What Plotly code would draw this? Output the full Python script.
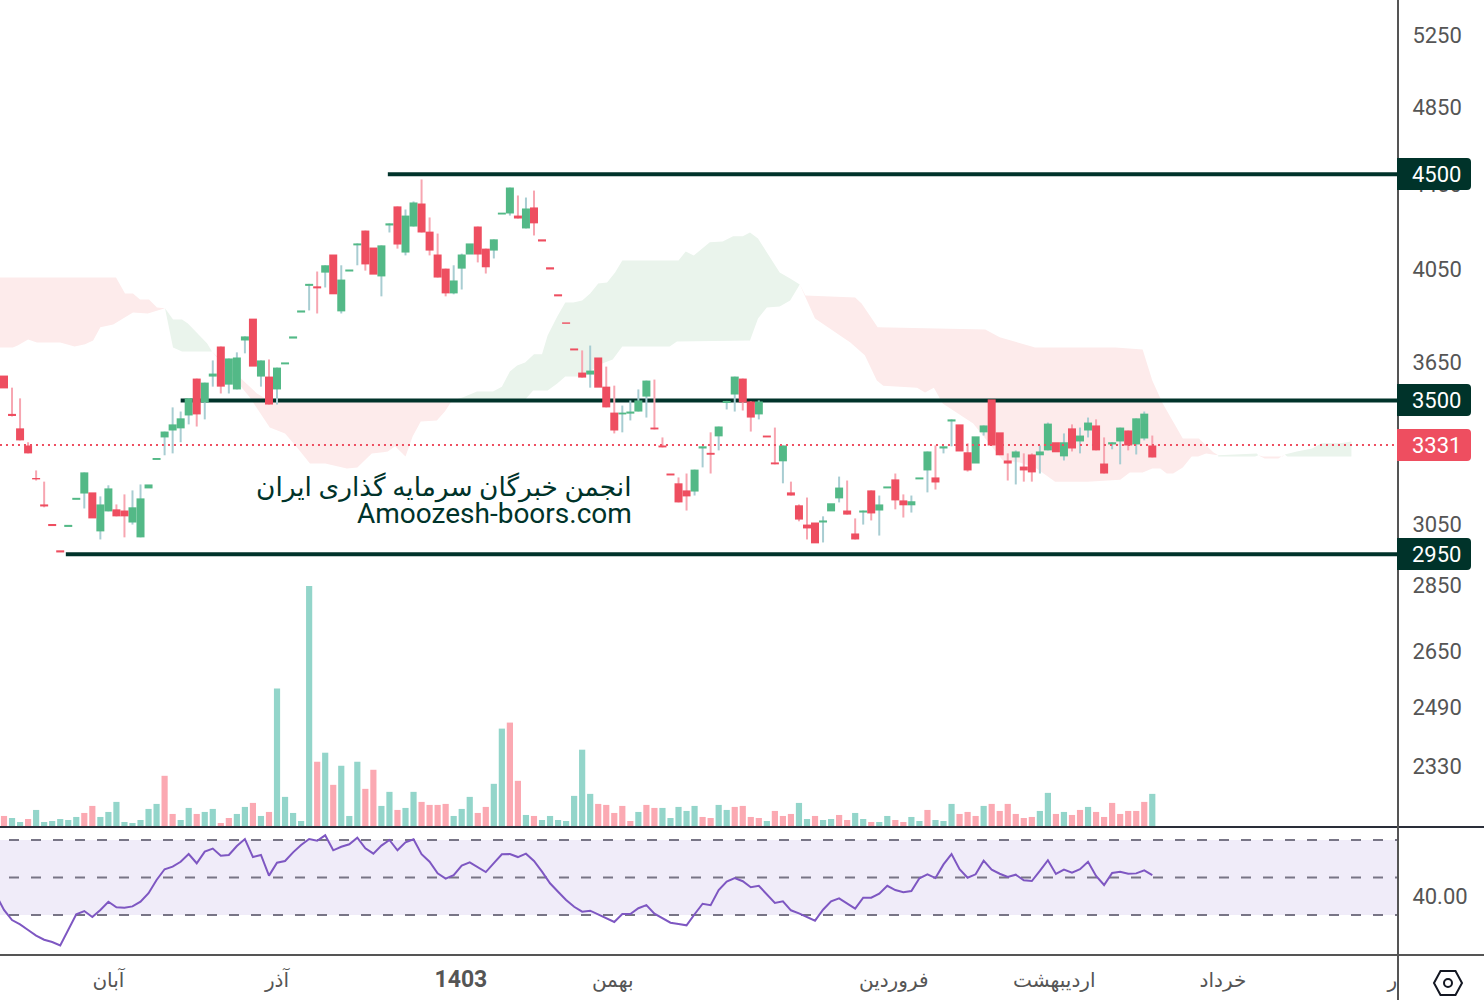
import math
import plotly.graph_objects as go

# ---------- candles (log price) ----------
opens = [3598,3448,3393,3329,3211,3118,3051,2963,3041,3134,
3156,3160,3026,3094,3101,3097,3056,3006,3174,3276,
3359,3385,3393,3442,3586,3492,3594,3716,3562,3543,
3741,3833,3594,3594,3543,3643,3749,3859,3975,3973,
4034,4116,3864,4039,4158,4227,4148,4017,4251,4342,
4125,4246,4356,4222,4116,4052,3942,4052,4116,4246,
4143,4134,4303,4308,4298,4237,4337,4186,4058,3938,
3817,3708,3610,3602,3671,3554,3453,3446,3449,3457,
3515,3396,3329,3227,3192,3167,3163,3318,3302,3363,
3490,3523,3586,3496,3446,3366,3267,3271,3160,3115,
3049,3056,3056,3094,3139,3097,3019,3090,3167,3097,
3174,3206,3132,3115,3206,3238,3213,3318,3419,3408,
3304,3263,3378,3504,3378,3274,3285,3252,3296,3293,
3311,3341,3289,3393,3344,3385,3404,3263,3333,3344,
3385,3333,3355,3329]
closes = [3547,3440,3348,3300,3206,3111,3044,2956,3048,3141,
3231,3070,3118,3174,3077,3077,3108,3139,3188,3283,
3381,3408,3431,3508,3446,3570,3606,3554,3667,3671,
3758,3634,3659,3484,3630,3651,3758,3868,3984,3964,
4067,3938,4003,4048,4167,4071,4025,4158,4261,4162,
4298,4361,4218,4134,4012,3942,3999,4116,4167,4116,
4058,4186,4312,4434,4284,4332,4261,4176,4048,3929,
3811,3700,3590,3618,3550,3473,3385,3453,3457,3500,
3578,3389,3322,3220,3125,3146,3241,3326,3295,3400,
3498,3594,3492,3434,3496,3359,3260,3329,3149,3066,
3036,2986,3063,3122,3177,3083,2999,3097,3087,3118,
3181,3132,3115,3129,3213,3307,3195,3326,3427,3307,
3238,3363,3404,3329,3293,3263,3307,3238,3231,3307,
3411,3304,3341,3318,3366,3415,3311,3227,3341,3396,
3329,3431,3449,3285]
highs = [3598,3550,3508,3341,3238,3198,3051,2963,3048,3141,
3231,3160,3146,3185,3118,3153,3167,3188,3188,3283,
3381,3473,3457,3508,3586,3570,3659,3716,3667,3692,
3758,3833,3659,3663,3630,3651,3758,3868,3984,4039,
4067,4116,4067,4048,4167,4227,4148,4158,4261,4342,
4327,4366,4474,4289,4213,4052,4067,4120,4167,4246,
4143,4186,4312,4434,4395,4385,4419,4186,4058,3938,
3817,3708,3700,3720,3671,3634,3558,3480,3500,3543,
3578,3582,3359,3227,3213,3227,3241,3326,3378,3400,
3498,3594,3586,3496,3500,3366,3396,3329,3198,3118,
3142,3056,3077,3122,3216,3202,3070,3097,3167,3149,
3181,3227,3153,3149,3213,3307,3329,3326,3427,3408,
3337,3363,3404,3504,3378,3300,3311,3300,3300,3329,
3415,3341,3374,3408,3396,3434,3427,3359,3341,3396,
3385,3431,3457,3366]
lows = [3547,3438,3348,3300,3202,3108,3044,2956,3041,3134,
3104,3070,2999,3094,3077,3006,3049,3006,3174,3276,
3293,3300,3341,3408,3400,3427,3554,3527,3527,3543,
3688,3634,3554,3484,3484,3643,3749,3859,3868,3855,
3968,3938,3855,4039,4067,4043,4025,3929,4218,4143,
4112,4246,4218,4112,4012,3929,3938,3959,4116,4080,
4030,4098,4303,4298,4284,4237,4204,4176,4048,3929,
3811,3700,3590,3550,3550,3473,3374,3378,3423,3457,
3434,3389,3322,3220,3125,3097,3149,3249,3227,3311,
3465,3457,3461,3381,3427,3359,3260,3192,3149,3060,
2999,2986,2989,3094,3125,3083,2999,3049,3063,3012,
3174,3101,3073,3090,3206,3160,3170,3300,3326,3307,
3234,3263,3366,3329,3293,3202,3188,3198,3198,3227,
3311,3304,3274,3307,3300,3359,3311,3227,3315,3260,
3311,3296,3348,3285]

# ---------- volume ----------
volumes = [30,24,12,21,48,12,15,21,18,27,39,60,27,42,72,12,9,18,51,66,
150,36,18,54,36,42,51,9,24,36,57,69,30,42,411,87,39,15,717,192,
219,123,180,30,192,111,168,60,102,48,54,102,72,63,63,66,30,51,87,39,
57,126,291,309,135,33,30,18,30,18,15,90,228,96,66,63,39,60,15,42,
63,54,54,24,57,45,60,27,24,63,48,57,60,27,24,15,45,30,36,69,
21,30,18,21,33,18,39,21,12,12,30,18,12,27,15,48,18,15,66,36,
42,30,60,66,45,66,36,24,27,45,99,36,42,33,48,57,42,27,69,36,
45,45,72,96]
volume_up = [0,1,1,0,1,1,1,1,1,1,0,0,1,1,1,1,1,1,1,1,
0,0,1,1,0,1,1,0,0,1,1,0,1,0,1,1,1,1,1,0,
1,0,1,1,1,0,0,1,1,0,1,1,0,0,0,0,1,1,1,0,
0,1,1,0,0,1,0,1,1,1,1,1,1,1,0,0,0,0,0,1,
0,0,1,1,1,1,1,0,0,1,1,0,0,0,0,1,0,0,0,1,
1,0,1,1,0,0,1,1,0,1,1,0,0,1,1,0,1,1,1,0,
0,0,1,0,0,0,0,0,0,1,1,0,1,0,0,1,0,0,0,0,
0,0,0,1]

# ---------- RSI (first value lies one bar before the first candle) ----------
rsi = [40.8,32.7,27.3,25.0,22.0,19.0,16.8,15.6,13.8,22.0,30.4,32.1,28.9,32.7,37.1,34.1,33.9,34.6,37.1,41.6,
48.7,54.4,55.8,58.4,62.5,57.6,63.8,65.4,61.6,62.0,66.8,70.5,60.9,62.0,51.0,57.9,58.8,63.4,67.3,70.5,
69.6,72.5,64.5,66.4,67.7,71.2,65.6,62.7,67.0,70.0,64.5,68.8,70.4,62.4,58.4,52.2,49.4,51.3,56.3,58.1,
55.4,52.9,57.7,62.4,62.5,60.9,62.7,58.8,53.1,46.9,42.4,38.0,34.4,31.8,32.3,30.4,28.4,26.3,30.5,30.5,
33.6,35.3,30.7,28.4,25.9,25.2,24.5,30.4,36.0,35.2,43.3,47.8,49.7,48.0,44.8,45.6,41.2,36.4,37.3,32.5,
30.9,28.9,27.0,32.8,37.3,38.9,36.2,33.4,39.2,39.2,41.4,45.6,43.3,42.1,42.8,49.6,51.7,49.7,57.0,62.5,
54.4,49.9,51.7,59.0,54.2,52.0,50.3,51.5,48.5,48.1,53.5,59.2,51.9,54.2,52.6,54.4,58.4,50.8,46.0,52.4,
53.1,52.0,52.2,53.8,51.3]

# ---------- Ichimoku cloud: (bar position, price) along each span ----------
red_a_top_x = [-0.5,13.95,15.07,16.06,16.94,18.06,19.05,20.05]
red_a_top_y = [4012,4012,3942,3942,3915,3915,3881,3877]
red_a_bot_x = [-0.5,1.1,1.7,3,4.1,7,8.8,10.1,11.1,12,13.6,16.06,17.9,20.05]
red_a_bot_y = [3712,3712,3720,3745,3733,3733,3716,3725,3741,3796,3808,3859,3855,3877]

green_a_top_x = [20.05,21.05,22.17,22.9,25.3,25.9]
green_a_top_y = [3877,3829,3829,3812,3729,3696]
green_a_bot_x = [20.05,21.05,22.17,25.9]
green_a_bot_y = [3877,3712,3696,3696]

red_b_top_x = [25.9,28.5,29.8,31.5,32.5,36.9,55.8]
red_b_top_y = [3696,3618,3578,3527,3508,3504,3500]
red_b_bot_x = [25.9,30.6,33.1,35,36.5,38.1,40,42.7,44,45.8,47.2,47.8,48.7,50,50.9,51.9,53.9,54.9,55.8]
red_b_bot_y = [3696,3512,3396,3374,3322,3263,3263,3245,3249,3300,3304,3307,3326,3289,3363,3419,3423,3457,3500]

green_b_top_x = [55.8,57.2,58.9,60.9,62,63,63.9,64.9,66,67,67.7,68.9,69.9,70.9,72,73,74,75.1,76.1,77,84,84.9,85.9,87.9,89.5,90.8,92,92.9,93.9,96.6,97.9,99.1]
green_b_top_y = [3500,3512,3535,3535,3554,3614,3638,3651,3684,3684,3762,3842,3902,3902,3911,3942,3986,3990,4034,4089,4089,4130,4112,4172,4176,4200,4200,4218,4190,4034,4008,3981]
green_b_bot_x = [55.8,64.8,65.9,67.7,68.9,69.9,71.7,72.7,74.5,75.8,77,82.9,83.8,92.9,93.9,95,96.6,97.9,99.1]
green_b_bot_y = [3496,3500,3539,3539,3566,3594,3594,3610,3647,3663,3716,3716,3737,3741,3833,3881,3885,3911,3981]

red_c_top_x = [99.1,99.8,106,106.8,108.8,122.2,124,128.4,138.4,141.8,143,144.3,146.8,148.8,150.6,151.2]
red_c_top_y = [3981,3933,3924,3898,3796,3787,3754,3712,3712,3704,3578,3488,3355,3355,3304,3293]
red_c_bot_x = [99.1,101,105.4,107.2,108.7,109.5,113.7,114.7,115.8,116.9,118.7,120.7,124.4,126.5,128.6,130.9,134.9,139,140.2,141.8,143,144,144.8,145.6,146.8,147.9,148.7,149.7,151.2]
red_c_bot_y = [3981,3833,3733,3680,3578,3558,3550,3531,3550,3488,3450,3411,3274,3267,3245,3198,3198,3205,3231,3231,3245,3245,3227,3227,3249,3289,3289,3300,3293]

green_c_top_x = [151.2,156,156.2]
green_c_top_y = [3293,3300,3293]
green_c_bot_x = [151.2,155.8,156.2]
green_c_bot_y = [3289,3289,3293]

red_d_top_x = [156.2,156.8,159.2,159.5]
red_d_top_y = [3293,3289,3289,3296]
red_d_bot_x = [156.2,157,158.7,159.5]
red_d_bot_y = [3293,3281,3281,3296]

green_d_top_x = [159.5,161,162.9,164.1,166.4,167.8]
green_d_top_y = [3296,3307,3318,3337,3337,3344]
green_d_bot_x = [159.5,159.8,167.8]
green_d_bot_y = [3296,3289,3289]

# ---------- levels and labels ----------
level_prices = [4500, 3500, 2950]
level_starts = [47.8, 22.0, 7.7]
last_price = 3331
price_ticks = [5250, 4850, 4450, 4050, 3650, 3050, 2850, 2650, 2490, 2330]
month_ticks = [13, 34, 56.9, 75.8, 110.8, 130.8, 151.8, 172.9]
month_labels = ["آبان", "آذر", "<b><span style='font-size:23px'>1403</span></b>", "بهمن", "فروردین", "اردیبهشت", "خرداد", "ر"]
watermark_1 = "انجمن خبرگان سرمایه گذاری ایران"
watermark_2 = "Amoozesh-boors.com"

# ---------- styles ----------
W, H = 1484, 1000
AXIS_X = 1398
X_MAX = 173.6
GREEN, RED = "#53B987", "#EE4E60"
GREEN_WICK, RED_WICK = "#A8CDD2", "#F7A6B1"
VOL_GREEN, VOL_RED = "#93D5CA", "#FBA9B2"
CLOUD_RED, CLOUD_GREEN = "#FDEBEB", "#EAF4EC"
DARK = "#00332A"
TEXT = "#555555"
FONT = "Roboto, 'DejaVu Sans', sans-serif"

fx = lambda px: px / W
fy = lambda py: 1 - py / H
bars = list(range(len(opens)))

fig = go.Figure()

def add_cloud(tx, ty, bx, by, color):
    fig.add_trace(go.Scatter(x=tx + bx[::-1], y=ty + by[::-1], mode="lines", fill="toself",
                             fillcolor=color, line=dict(width=0, color=color),
                             hoverinfo="skip", yaxis="y", showlegend=False))

add_cloud(red_a_top_x, red_a_top_y, red_a_bot_x, red_a_bot_y, CLOUD_RED)
add_cloud(green_a_top_x, green_a_top_y, green_a_bot_x, green_a_bot_y, CLOUD_GREEN)
add_cloud(red_b_top_x, red_b_top_y, red_b_bot_x, red_b_bot_y, CLOUD_RED)
add_cloud(green_b_top_x, green_b_top_y, green_b_bot_x, green_b_bot_y, CLOUD_GREEN)
add_cloud(red_c_top_x, red_c_top_y, red_c_bot_x, red_c_bot_y, CLOUD_RED)
add_cloud(green_c_top_x, green_c_top_y, green_c_bot_x, green_c_bot_y, CLOUD_GREEN)
add_cloud(red_d_top_x, red_d_top_y, red_d_bot_x, red_d_bot_y, CLOUD_RED)
add_cloud(green_d_top_x, green_d_top_y, green_d_bot_x, green_d_bot_y, CLOUD_GREEN)

# volume
fig.add_trace(go.Bar(x=bars, y=volumes, yaxis="y2",
                     marker=dict(color=[VOL_GREEN if u else VOL_RED for u in volume_up], line=dict(width=0)),
                     hoverinfo="skip", showlegend=False))

# horizontal levels
for price, start in zip(level_prices, level_starts):
    fig.add_trace(go.Scatter(x=[start, X_MAX], y=[price, price], mode="lines",
                             line=dict(color=DARK, width=4), hoverinfo="skip", showlegend=False))

# wicks, then bodies (drawn as scatter so they stack above the cloud and the levels)
for up, color in ((True, GREEN_WICK), (False, RED_WICK)):
    wx, wy = [], []
    for i in bars:
        if (closes[i] >= opens[i]) == up and (highs[i] > max(opens[i], closes[i]) or lows[i] < min(opens[i], closes[i])):
            wx += [i, i, None]
            wy += [lows[i], highs[i], None]
    fig.add_trace(go.Scatter(x=wx, y=wy, mode="lines", line=dict(color=color, width=2),
                             hoverinfo="skip", showlegend=False))

for up, color in ((True, GREEN), (False, RED)):
    bx, by = [], []
    for i in bars:
        if (closes[i] >= opens[i]) == up:
            bx += [i, i, None]
            by += [opens[i], closes[i], None]
    fig.add_trace(go.Scatter(x=bx, y=by, mode="lines", line=dict(color=color, width=8),
                             hoverinfo="skip", showlegend=False))

# last price dotted line
fig.add_trace(go.Scatter(x=[-0.5, X_MAX], y=[last_price, last_price], mode="lines",
                         line=dict(color=RED, width=2, dash="2px,4px"), hoverinfo="skip", showlegend=False))

# RSI
fig.add_trace(go.Scatter(x=list(range(-1, len(opens))), y=rsi, yaxis="y3", mode="lines",
                         line=dict(color="#7E57C2", width=2), hoverinfo="skip", showlegend=False))

shapes = []
# RSI band and dashed levels
shapes.append(dict(type="rect", xref="paper", yref="y3", x0=0, x1=fx(AXIS_X), y0=30, y1=70,
                   fillcolor="#F0ECF9", line=dict(width=0), layer="below"))
for lvl in (70, 50, 30):
    shapes.append(dict(type="line", xref="paper", yref="y3", x0=fx(9), x1=fx(AXIS_X), y0=lvl, y1=lvl,
                       line=dict(color="#787586", width=2, dash="10px,12px"), layer="below"))
# frame lines
shapes.append(dict(type="line", xref="paper", yref="paper", x0=0, x1=1, y0=fy(827), y1=fy(827),
                   line=dict(color="#2A2E39", width=2)))
shapes.append(dict(type="line", xref="paper", yref="paper", x0=0, x1=1, y0=fy(955), y1=fy(955),
                   line=dict(color="#555555", width=2)))
shapes.append(dict(type="line", xref="paper", yref="paper", x0=fx(AXIS_X), x1=fx(AXIS_X), y0=0, y1=1,
                   line=dict(color="#555555", width=2)))

def badge(y0, y1, color):
    l, r, c = 1397, 1471, 4
    path = (f"M {fx(l)} {fy(y0)} L {fx(r-c)} {fy(y0)} Q {fx(r)} {fy(y0)} {fx(r)} {fy(y0+c)} "
            f"L {fx(r)} {fy(y1-c)} Q {fx(r)} {fy(y1)} {fx(r-c)} {fy(y1)} L {fx(l)} {fy(y1)} Z")
    return dict(type="path", xref="paper", yref="paper", path=path, fillcolor=color, line=dict(width=0))

badges = [(158, 190, DARK, "4500"), (384, 416, DARK, "3500"), (429, 461, RED, "3331"), (538, 570, DARK, "2950")]
annotations = []
for y0, y1, col, txt in badges:
    shapes.append(badge(y0, y1, col))
    annotations.append(dict(xref="paper", yref="paper", x=fx(1410), y=fy((y0 + y1) / 2 + 0.5), xanchor="left",
                            yanchor="middle", text=txt, showarrow=False,
                            font=dict(family=FONT, size=22, color="#FFFFFF")))

# settings icon
cx, cy = 1448, 983
hexagon = [(1434, cy), (1440.5, 971), (1455.5, 971), (1462, cy), (1455.5, 995), (1440.5, 995)]
shapes.append(dict(type="path", xref="paper", yref="paper",
                   path="M " + " L ".join(f"{fx(a)} {fy(b)}" for a, b in hexagon) + " Z",
                   line=dict(color="#131722", width=2)))
shapes.append(dict(type="circle", xref="paper", yref="paper", x0=fx(cx - 4), x1=fx(cx + 4), y0=fy(cy - 4), y1=fy(cy + 4),
                   line=dict(color="#131722", width=2)))

annotations.append(dict(xref="paper", yref="paper", x=fx(634), y=fy(487), xanchor="right", yanchor="middle",
                        text=watermark_1, showarrow=False, font=dict(family=FONT, size=26.4, color=DARK)))
annotations.append(dict(xref="paper", yref="paper", x=fx(634), y=fy(513), xanchor="right", yanchor="middle",
                        text=watermark_2, showarrow=False, font=dict(family=FONT, size=28, color=DARK)))

fig.update_layout(
    width=W, height=H, margin=dict(l=0, r=0, t=0, b=0), autosize=False,
    paper_bgcolor="#FFFFFF", plot_bgcolor="#FFFFFF", showlegend=False,
    bargap=0.23, hovermode=False, dragmode=False,
    font=dict(family=FONT, color=TEXT),
    xaxis=dict(domain=[0, fx(AXIS_X)], range=[-0.498, X_MAX], anchor="y3", showgrid=False, zeroline=False,
               showline=False, tickmode="array", tickvals=month_ticks,
               ticktext=month_labels, tickfont=dict(family=FONT, size=20, color=TEXT),
               ticks="outside", ticklen=8, tickcolor="rgba(0,0,0,0)", tickangle=0),
    yaxis=dict(domain=[fy(826), 1], type="log",
               range=[math.log10(5250 * math.exp(-790.5 / 900)), math.log10(5250 * math.exp(35.5 / 900))],
               side="right", anchor="x", showgrid=False, zeroline=False, showline=False, tickmode="array",
               tickvals=price_ticks, ticktext=[str(v) for v in price_ticks],
               tickfont=dict(family=FONT, size=22, color=TEXT),
               ticks="outside", ticklen=9, tickcolor="rgba(0,0,0,0)"),
    yaxis2=dict(overlaying="y", range=[0, 2468], side="left", visible=False, anchor="x"),
    yaxis3=dict(domain=[fy(954), fy(828)], range=[9.2, 76.4], side="right", anchor="x", showgrid=False,
                zeroline=False, showline=False, tickmode="array", tickvals=[40], ticktext=["40.00"],
                tickfont=dict(family=FONT, size=22, color=TEXT), ticks="outside", ticklen=9,
                tickcolor="rgba(0,0,0,0)"),
    shapes=shapes, annotations=annotations,
)

fig.write_html("out.html", config=dict(displayModeBar=False, staticPlot=True),
               post_script="document.body.style.margin='0';document.documentElement.style.overflow='hidden';")
